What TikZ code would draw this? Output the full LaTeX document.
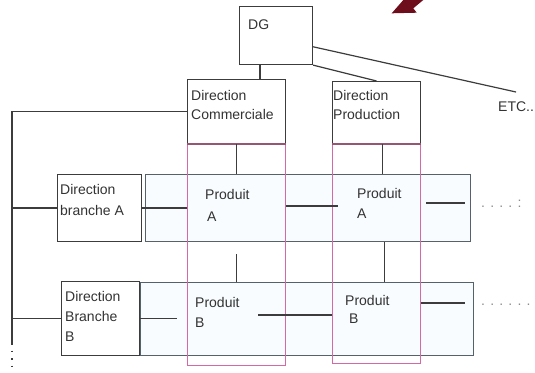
\documentclass[tikz,border=0pt]{standalone}
\usepackage{fontspec}
\setmainfont{Liberation Sans}
\usetikzlibrary{calc}
\definecolor{linegray}{RGB}{60,60,60}
\definecolor{rowgray}{RGB}{85,98,108}
\definecolor{rowfill}{RGB}{249,252,254}
\definecolor{colpink}{RGB}{212,105,165}
\definecolor{edgemauve}{RGB}{150,85,115}
\definecolor{arrowred}{RGB}{110,14,28}

\begin{document}
\begin{tikzpicture}[x=1pt,y=-1pt,
		box/.style={draw=linegray,line width=1.1pt,fill=white,anchor=north west,inner sep=0pt},
		rowbox/.style={draw=rowgray,line width=1.2pt,fill=rowfill,anchor=north west,inner sep=0pt},
		colbox/.style={draw=colpink,line width=1.3pt,anchor=north west,inner sep=0pt},
		txt/.style={anchor=base west,inner sep=0pt,align=left,text=black!80,font=\fontsize{14}{#1}\selectfont},
		txt/.default=20,
		link/.style={draw=linegray,line width=1.2pt}]
	\useasboundingbox (0,0) rectangle (535,372);
	
	\fill[arrowred] (391.7,13.3) -- (416.7,12.7) -- (413.3,8.3) -- (423.3,0) -- (403.3,0) -- cycle;
	
	\node[rowbox,minimum width=325pt,minimum height=67pt] (rowA) at (145,174) {};
	\node[rowbox,minimum width=333pt,minimum height=73pt] (rowB) at (140,282) {};
	\node[colbox,minimum width=98pt,minimum height=222pt] (colCom) at (187,143) {};
	\node[colbox,minimum width=88pt,minimum height=220pt] (colProd) at (332,143) {};
	
	\node[box,minimum width=73pt,minimum height=58pt] (dg) at (239,6) {};
	\node[box,minimum width=98pt,minimum height=64pt] (dirCom) at (187,79) {};
	\node[box,minimum width=88pt,minimum height=62pt] (dirProd) at (332,81) {};
	\node[box,minimum width=84pt,minimum height=67pt] (dirBrA) at (57,174) {};
	\node[box,minimum width=78pt,minimum height=74pt] (dirBrB) at (61,281) {};
	\draw[edgemauve,line width=2.6pt] (dirCom.south west) -- (dirCom.south east);
	\draw[edgemauve,line width=2.6pt] (dirProd.south west) -- (dirProd.south east);
	
	% last baselines
	\node[txt] (dgTxt) at (248,29) {DG};
	\node[txt=19] (dirComTxt) at (191,119) {Direction\\Commerciale};
	\node[txt=19] (dirProdTxt) at (333,119) {Direction\\Production};
	\node[txt] (etc) at (498,111) {ETC..};
	\node[txt=21] (dirBrATxt) at (60,215) {Direction\\branche A};
	\node[txt] (dirBrBTxt) at (65,341) {Direction\\Branche\\B};
	\node[txt=22] (prodAc) at (205,221) {Produit\\\hspace{2pt}A};
	\node[txt] (prodAp) at (357,218) {Produit\\A};
	\node[txt] (prodBc) at (195,327) {Produit\\B};
	\node[txt=18] (prodBp) at (345,323) {Produit\\\hspace{4pt}B};
	\node[txt,text=black!45] (dotsA) at (481,207) {. . . . :};
	\node[txt,text=black!45] (dotsB) at (481,305) {. . . . . .};
	
	\coordinate (trunkEnd) at (12,343);
	\coordinate (trunkTail) at (12,372);
	\path (dg.south west) ++(21,0) coordinate (dgFoot);
	\path (dirProd.south) ++(6,0) coordinate (dpFoot);
	
	\draw[link] (dgFoot) -- (dgFoot |- dirCom.north);
	\draw[link] (dg.south east) -- (dirProd.north);
	\draw[link] ($(dg.north east)!0.69!(dg.south east)$) -- ($(etc.north)+(0,-9)$);
	\draw[link] (dirCom.west) -| (trunkEnd);
	\draw[link,dash pattern=on 1.5pt off 6pt] (trunkEnd) -- (trunkTail);
	\draw[link] (trunkEnd |- dirBrA.west) -- (dirBrA.west);
	\draw[link] (trunkEnd |- dirBrB.west) -- (dirBrB.west);
	
	\draw[link] (dirCom.south) -- (dirCom.south |- rowA.north);
	\draw[link] (dpFoot) -- (dpFoot |- rowA.north);
	\draw[link] (dirBrA.east) -- (dirBrA.east -| colCom.west);
	\draw[link] (colCom.east |- 0,206) -- ([xshift=6pt]colProd.west |- 0,206);
	\draw[link] ([xshift=5pt]colProd.east |- 0,203) -- ([xshift=-6pt]rowA.east |- 0,203);
	
	\draw[link] (colCom.center |- 0,254) -- (colCom.center |- rowB.north);
	\draw[link] ([xshift=8pt]colProd.center |- rowA.south) -- ([xshift=8pt]colProd.center |- rowB.north);
	
	\draw[link] (dirBrB.east) -- ++(37,0);
	\draw[link] (258,315) -- (colProd.west |- 0,315);
	\draw[link] (colProd.east |- 0,303) -- ([xshift=-9pt]rowB.east |- 0,303);
\end{tikzpicture}
\end{document}
